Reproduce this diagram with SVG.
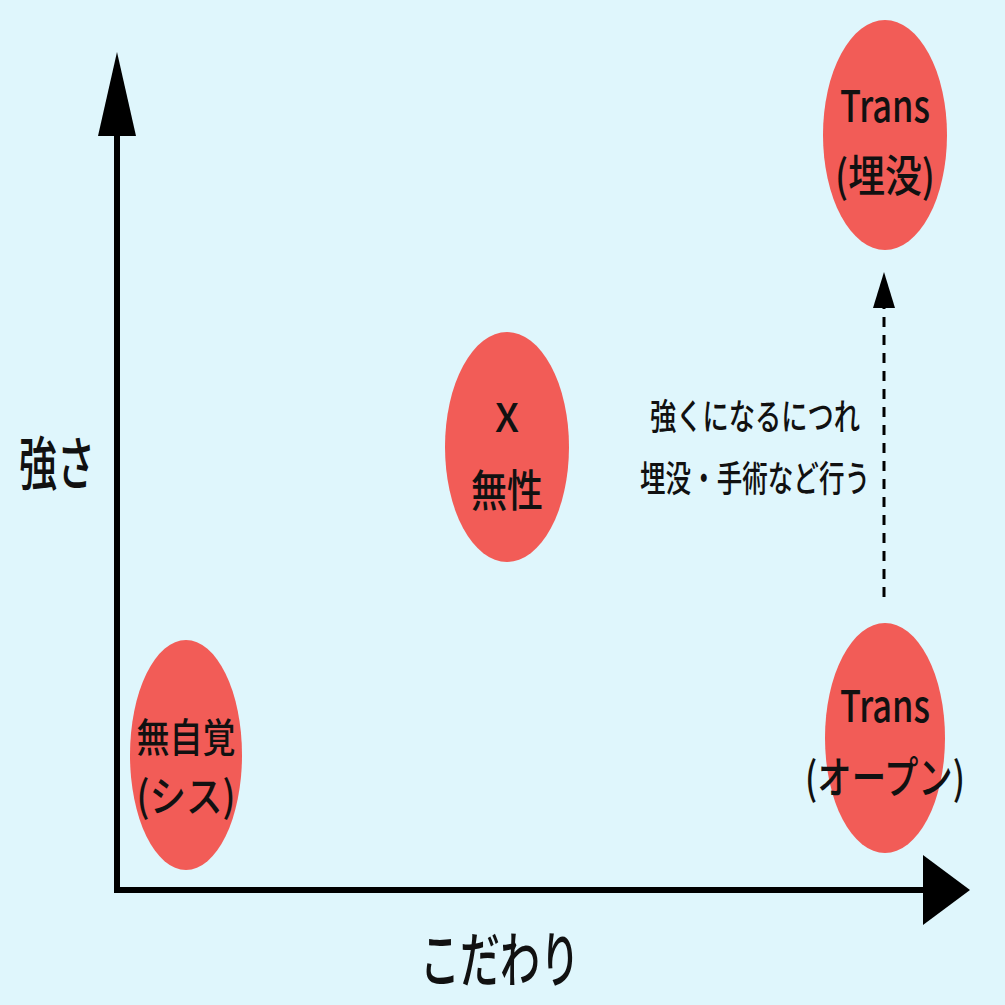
<svg xmlns="http://www.w3.org/2000/svg" width="1005" height="1005" viewBox="0 0 1005 1005">
<style>
.c{fill:#f25c57}
.t{font-family:"Noto Sans CJK JP","Liberation Sans",sans-serif;fill:#111;text-anchor:middle;font-weight:500}
</style>
<rect width="1005" height="1005" fill="#dff6fc"/>
<g id="connectors">
<line x1="117" y1="120" x2="117" y2="893" stroke="#000" stroke-width="6"/>
<polygon points="117,52 98,136 136,136" fill="#000"/>
<line x1="114" y1="890" x2="935" y2="890" stroke="#000" stroke-width="6"/>
<polygon points="970,890 923,855 923,925" fill="#000"/>
<line x1="884" y1="597" x2="884" y2="305" stroke="#000" stroke-width="3" stroke-dasharray="10,8"/>
<polygon points="884,272 873,308 895,308" fill="#000"/>
</g>
<g id="cis"><ellipse class="c" cx="186" cy="755" rx="56" ry="115"/>
<text class="t" x="186" y="752" font-size="40" textLength="99" lengthAdjust="spacingAndGlyphs">無自覚</text><text class="t" x="186" y="812" font-size="42" textLength="99" lengthAdjust="spacingAndGlyphs">(シス)</text></g>
<g id="x"><ellipse class="c" cx="507" cy="447" rx="62" ry="115"/>
<text class="t" x="507" y="432" font-size="40" textLength="24" lengthAdjust="spacingAndGlyphs">X</text><text class="t" x="507" y="507" font-size="44" textLength="72" lengthAdjust="spacingAndGlyphs">無性</text></g>
<g id="trans-buried"><ellipse class="c" cx="885" cy="135" rx="62" ry="115"/>
<text class="t" x="885" y="122" font-size="44" textLength="90" lengthAdjust="spacingAndGlyphs">Trans</text><text class="t" x="885" y="192" font-size="44" textLength="100" lengthAdjust="spacingAndGlyphs">(埋没)</text></g>
<g id="trans-open"><ellipse class="c" cx="885" cy="738" rx="60" ry="115"/>
<text class="t" x="885" y="722" font-size="44" textLength="90" lengthAdjust="spacingAndGlyphs">Trans</text><text class="t" x="885" y="794" font-size="44" textLength="160" lengthAdjust="spacingAndGlyphs">(オープン)</text></g>
<g id="labels">
<text class="t" x="57" y="485" font-size="58" textLength="76" lengthAdjust="spacingAndGlyphs">強さ</text>
<text class="t" x="500" y="982" font-size="60" textLength="160" lengthAdjust="spacingAndGlyphs">こだわり</text>
<text class="t" x="755" y="430" font-size="36" textLength="210" lengthAdjust="spacingAndGlyphs">強くになるにつれ</text>
<text class="t" x="755" y="492" font-size="36" textLength="230" lengthAdjust="spacingAndGlyphs">埋没・手術など行う</text>
</g>
</svg>
